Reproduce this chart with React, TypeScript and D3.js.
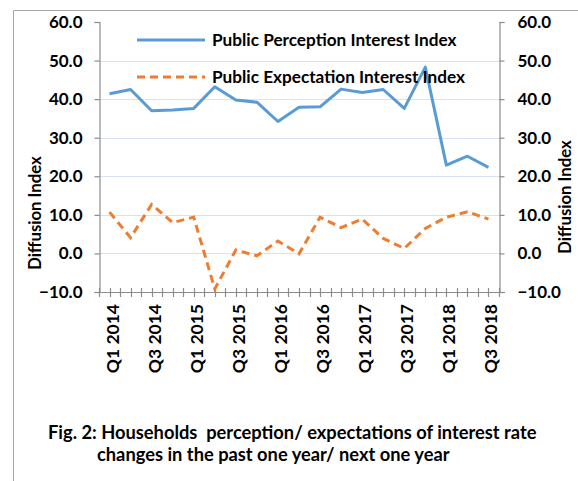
import React, { useEffect, useRef } from 'react';
import * as d3 from 'd3';

const quarters = [
  'Q1 2014', 'Q2 2014', 'Q3 2014', 'Q4 2014',
  'Q1 2015', 'Q2 2015', 'Q3 2015', 'Q4 2015',
  'Q1 2016', 'Q2 2016', 'Q3 2016', 'Q4 2016',
  'Q1 2017', 'Q2 2017', 'Q3 2017', 'Q4 2017',
  'Q1 2018', 'Q2 2018', 'Q3 2018',
];

const perception = [41.4, 42.5, 37.0, 37.2, 37.6, 43.2, 39.8, 39.2, 34.2, 37.9, 38.0, 42.6, 41.7, 42.5, 37.6, 48.3, 22.9, 25.2, 22.3];
const expectation = [10.7, 4.1, 12.7, 8.0, 9.4, -9.2, 0.9, -0.6, 3.2, -0.1, 9.4, 6.7, 8.9, 3.9, 1.3, 6.5, 9.4, 10.8, 8.9];

const yTicks = [-10, 0, 10, 20, 30, 40, 50, 60];
const seriesNames = ['Public Perception Interest Index', 'Public Expectation Interest Index'];
const captionLines = ['Fig. 2: Households  perception/ expectations of interest rate', 'changes in the past one year/ next one year'];

const FONT = 'Lato, "Open Sans", sans-serif';
const BLUE = '#5B9BD5';
const ORANGE = '#ED7D31';
const AXIS = '#8C8C8C';

const App: React.FC = () => {
  const svgRef = useRef<SVGSVGElement>(null);

  useEffect(() => {
    const svg = d3.select(svgRef.current);
    if (!svgRef.current) return;
    svg.selectAll('*').remove();

    const left = 99;
    const right = 499;
    const top = 22;
    const bottom = 292;

    const x = d3.scaleBand<string>().domain(quarters).range([left, right]);
    const y = d3.scaleLinear().domain([-10, 60]).range([bottom, top]);
    const cx = (q: string) => (x(q) as number) + x.bandwidth() / 2;

    // outer frame
    svg.append('path')
      .attr('d', 'M13.5,481 L13.5,10.5 L578,10.5')
      .attr('fill', 'none')
      .attr('stroke', '#A6A6A6')
      .attr('stroke-width', 1);

    // gridlines
    svg.append('g')
      .selectAll('line')
      .data(yTicks.filter(t => t > -10 && t < 60))
      .join('line')
      .attr('x1', left)
      .attr('x2', right)
      .attr('y1', d => Math.round(y(d)) + 0.5)
      .attr('y2', d => Math.round(y(d)) + 0.5)
      .attr('stroke', '#D9E2F3')
      .attr('stroke-width', 1.2);

    // left axis
    const gl = svg.append('g').attr('transform', `translate(${left + 0.5},0)`);
    gl.call(d3.axisLeft(y).tickValues(yTicks).tickSize(5).tickPadding(12).tickFormat(d3.format('.1f')));
    // right axis
    const gr = svg.append('g').attr('transform', `translate(${right + 0.5},0)`);
    gr.call(d3.axisRight(y).tickValues(yTicks).tickSize(5).tickPadding(13).tickFormat(d3.format('.1f')));

    [gl, gr].forEach(g => {
      g.select('.domain').attr('stroke', AXIS).attr('stroke-width', 1.2);
      g.selectAll('.tick line').attr('stroke', AXIS).attr('stroke-width', 1.2);
      g.selectAll('.tick text')
        .attr('fill', '#000')
        .attr('font-family', FONT)
        .attr('font-weight', 'bold')
        .attr('font-size', 17);
    });

    // x axis line and ticks
    const gx = svg.append('g');
    gx.append('line')
      .attr('x1', left - 4)
      .attr('x2', right + 6)
      .attr('y1', bottom + 0.5)
      .attr('y2', bottom + 0.5)
      .attr('stroke', AXIS)
      .attr('stroke-width', 1.2);
    const tickXs: number[] = [];
    quarters.forEach(q => {
      tickXs.push(x(q) as number);
      tickXs.push(cx(q));
    });
    tickXs.push(right);
    gx.selectAll('line.t')
      .data(tickXs)
      .join('line')
      .attr('class', 't')
      .attr('x1', d => Math.round(d) + 0.5)
      .attr('x2', d => Math.round(d) + 0.5)
      .attr('y1', bottom - 4)
      .attr('y2', bottom + 5)
      .attr('stroke', AXIS)
      .attr('stroke-width', 1.2);

    gx.selectAll('text')
      .data(quarters.filter((_, i) => i % 2 === 0))
      .join('text')
      .attr('transform', d => `translate(${cx(d) + 9},${bottom + 12}) rotate(-90)`)
      .attr('text-anchor', 'end')
      .attr('font-family', FONT)
      .attr('font-weight', 'bold')
      .attr('font-size', 17.5)
      .text(d => d);

    // axis titles
    svg.append('text')
      .attr('transform', `translate(41,213) rotate(-90)`)
      .attr('text-anchor', 'middle')
      .attr('font-family', FONT)
      .attr('font-weight', 'bold')
      .attr('font-size', 16.7)
      .text('Diffusion Index');
    svg.append('text')
      .attr('transform', `translate(571,197) rotate(-90)`)
      .attr('text-anchor', 'middle')
      .attr('font-family', FONT)
      .attr('font-weight', 'bold')
      .attr('font-size', 16.7)
      .text('Diffusion Index');

    // lines
    const line = d3.line<number>()
      .x((_, i) => cx(quarters[i]))
      .y(d => y(d));

    svg.append('path')
      .attr('d', line(perception))
      .attr('fill', 'none')
      .attr('stroke', BLUE)
      .attr('stroke-width', 3)
      .attr('stroke-linejoin', 'round');

    svg.append('path')
      .attr('d', line(expectation))
      .attr('fill', 'none')
      .attr('stroke', ORANGE)
      .attr('stroke-width', 3)
      .attr('stroke-dasharray', '8,5');

    // legend
    const legend = svg.append('g');
    seriesNames.forEach((name, i) => {
      const ly = 40 + i * 37;
      legend.append('line')
        .attr('x1', 137)
        .attr('x2', 205)
        .attr('y1', ly)
        .attr('y2', ly)
        .attr('stroke', i === 0 ? BLUE : ORANGE)
        .attr('stroke-width', 3)
        .attr('stroke-dasharray', i === 0 ? null : '8,5');
      legend.append('text')
        .attr('x', 212)
        .attr('y', ly + 6)
        .attr('font-family', FONT)
        .attr('font-weight', 'bold')
        .attr('font-size', 17.2)
        .text(name);
    });

    // caption
    captionLines.forEach((t, i) => {
      svg.append('text')
        .attr('x', i === 0 ? 48 : 97)
        .attr('y', 439 + i * 22)
        .attr('font-family', FONT)
        .attr('font-weight', 'bold')
        .attr('font-size', 18.3)
        .style('white-space', 'pre')
        .text(t);
    });
  }, []);

  return (
    <svg
      ref={svgRef}
      width={578}
      height={481}
      style={{ position: 'absolute', left: 0, top: 0, background: '#fff' }}
    />
  );
};

export default App;
